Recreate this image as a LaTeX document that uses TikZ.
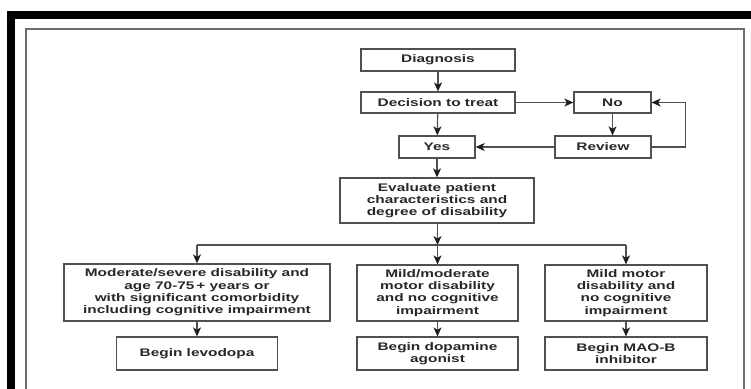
\documentclass[tikz,border=0pt]{standalone}
\usepackage{fontspec}
\newfontfamily\dfont{Liberation Sans}[FakeStretch=1.4]
\usetikzlibrary{arrows.meta}
\definecolor{lc}{RGB}{80,80,80}
\definecolor{tc}{RGB}{40,40,40}
\definecolor{fc}{RGB}{110,110,110}
\definecolor{ac}{RGB}{30,30,30}
\begin{document}
\begin{tikzpicture}[x=1pt,y=-1pt,
  box/.style={draw=lc,line width=1.3pt,text=tc,align=center,inner sep=0pt,
    font=\dfont\bfseries\fontsize{11}{12.3}\selectfont},
  arr/.style={draw=lc,line width=1.2pt,-{Stealth[length=9pt,width=8pt,inset=2.5pt,color=ac]}},
  ln/.style={draw=lc,line width=1.2pt}]
\useasboundingbox (0,0) rectangle (751,388);
\clip (0,0) rectangle (751,388);
\fill[white] (0,0) rectangle (751,388);
% frames
\draw[black,line width=8pt] (11,400) -- (11,15) -- (770,15);
\draw[fc,line width=1.4pt] (26,400) -- (26,29) -- (744,29) -- (744,400);
% nodes
\node[box,minimum width=154pt,minimum height=22pt] (diag) at (438,60) {Diagnosis};
\node[box,minimum width=154pt,minimum height=21pt] (dec) at (438,102.5) {Decision to treat};
\node[box,minimum width=77pt,minimum height=21pt] (no) at (612.5,102.5) {No};
\node[box,minimum width=76pt,minimum height=22pt] (yes) at (437,147) {Yes};
\node[box,minimum width=96pt,minimum height=22pt] (rev) at (603,147) {Review};
\node[box,minimum width=194pt,minimum height=45pt] (eval) at (437,200.5)
  {Evaluate patient\\characteristics and\\degree of disability};
\node[box,minimum width=266pt,minimum height=57pt] (left) at (197,292.5)
  {Moderate/severe disability and\\age 70-75\,+ years or\\with significant comorbidity\\including cognitive impairment};
\node[box,minimum width=161pt,minimum height=56pt] (mid) at (437.5,293)
  {Mild/moderate\\motor disability\\and no cognitive\\impairment};
\node[box,minimum width=162pt,minimum height=56pt] (right) at (626,293)
  {Mild motor\\disability and\\no cognitive\\impairment};
\node[box,minimum width=161pt,minimum height=33pt] (levo) at (197,353.5) {Begin levodopa};
\node[box,minimum width=161pt,minimum height=33pt] (dopa) at (437.5,353.5) {Begin dopamine\\agonist};
\node[box,minimum width=162pt,minimum height=33pt] (mao) at (626,353.5) {Begin MAO-B\\inhibitor};
% branch coordinates
\coordinate (bc) at (437.5,245);
\coordinate (bl) at (197,245);
\coordinate (br) at (626,245);
% connectors
\draw[arr] (diag) -- (dec);
\draw[arr] (dec) -- (yes);
\draw[arr] (dec) -- (no);
\draw[arr] (no) -- (no.south |- rev.north);
\draw[arr] (rev) -- (yes);
\draw[arr] (rev.east) -- ++(34,0) |- (no.east);
\draw[arr] (yes) -- (eval);
\draw[arr] (eval.south -| bc) -- (bc);
\draw[ln] (bl) -- (br);
\draw[arr] (bl) -- (left.north);
\draw[arr] (bc) -- (mid.north);
\draw[arr] (br) -- (right.north);
\draw[arr] (left) -- (levo);
\draw[arr] (mid) -- (dopa);
\draw[arr] (right) -- (mao);
\end{tikzpicture}
\end{document}
